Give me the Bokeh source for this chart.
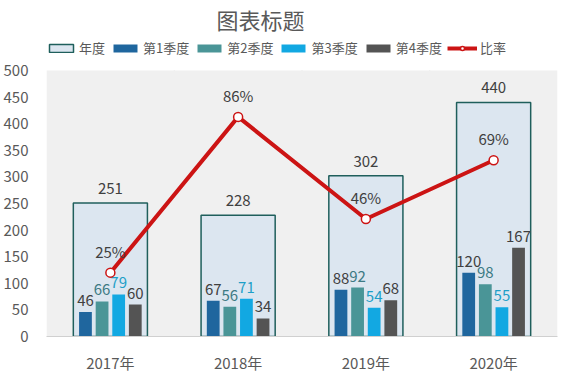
from bokeh.plotting import figure
from bokeh.models import (ColumnDataSource, FactorRange, Range1d, Legend,
                          LegendItem, FixedTicker, BoxAnnotation)
from bokeh.transform import dodge
from bokeh.core.properties import value
from bokeh.embed import file_html
from bokeh.resources import INLINE

# ---- data ----
years = ["2017年", "2018年", "2019年", "2020年"]
annual = [251, 228, 302, 440]
q1 = [46, 67, 88, 120]
q2 = [66, 56, 92, 98]
q3 = [79, 71, 54, 55]
q4 = [60, 34, 68, 167]
ratio = [0.25, 0.86, 0.46, 0.69]
y_ticks = [0, 50, 100, 150, 200, 250, 300, 350, 400, 450, 500]
series_names = ["年度", "第1季度", "第2季度", "第3季度", "第4季度", "比率"]
title_text = "图表标题"

FONT = "Noto Sans CJK SC"
TXT = "#595959"
LBL = "#404040"

FRAME_H = 302
PX_PER_UNIT = 266 / 500.0
y_end = FRAME_H / PX_PER_UNIT

src = ColumnDataSource(dict(
    years=years, annual=annual, q1=q1, q2=q2, q3=q3, q4=q4, ratio=ratio,
    annual_lbl=[str(v) for v in annual],
    q1_lbl=[str(v) for v in q1], q2_lbl=[str(v) for v in q2],
    q3_lbl=[str(v) for v in q3], q4_lbl=[str(v) for v in q4],
    ratio_lbl=[f"{round(v * 100)}%" for v in ratio],
))
grid_src = ColumnDataSource(dict(years=years[:-1]))

p = figure(x_range=FactorRange(*years, range_padding=0), y_range=Range1d(0, y_end),
           frame_width=511, frame_height=FRAME_H, output_backend="svg",
           toolbar_location=None, min_border_left=40, min_border_right=17,
           min_border_bottom=28, min_border_top=0)
p.extra_y_ranges = {"ratio": Range1d(0, y_end / 480)}

p.background_fill_color = "white"
p.border_fill_color = "white"
p.outline_line_color = None
p.xgrid.grid_line_color = None
p.ygrid.grid_line_color = None

# plot area background (0..500) and category separators
p.add_layout(BoxAnnotation(bottom=y_ticks[0], top=y_ticks[-1], fill_color="#f0f0f0",
                           fill_alpha=1, line_color=None, level="underlay"))
p.segment(x0=dodge("years", 0.5, range=p.x_range), y0=y_ticks[0],
          x1=dodge("years", 0.5, range=p.x_range), y1=y_ticks[-1],
          source=grid_src, line_color="#d6d6d6", line_width=1, level="underlay")

# title
p.title.text = title_text
p.title.align = "left"
p.title.offset = 170
p.title.text_font = FONT
p.title.text_font_size = "22px"
p.title.text_font_style = "normal"
p.title.text_color = TXT
p.title.standoff = 0

# axes
p.yaxis.ticker = FixedTicker(ticks=y_ticks)
p.yaxis.axis_line_color = None
p.yaxis.major_tick_line_color = None
p.yaxis.minor_tick_line_color = None
p.yaxis.major_label_text_font = FONT
p.yaxis.major_label_text_font_size = "15px"
p.yaxis.major_label_text_color = TXT
p.yaxis.major_label_standoff = 12

p.xaxis.axis_line_color = "#d0d0d0"
p.xaxis.major_tick_line_color = None
p.xaxis.minor_tick_line_color = None
p.xaxis.major_label_text_font = FONT
p.xaxis.major_label_text_font_size = "15px"
p.xaxis.major_label_text_color = TXT
p.xaxis.major_label_standoff = 9

# bars
r_year = p.vbar(x="years", top="annual", width=0.58, source=src,
                fill_color="#dce6f0", line_color="#1f5f5c", line_width=1.5)

offs = [-0.195, -0.065, 0.065, 0.195]
cols = ["#1f669e", "#4a9597", "#12a8e2", "#545454"]
lcols = [LBL, "#3d7a84", "#1e9fc8", LBL]
qkeys = ["q1", "q2", "q3", "q4"]
q_rs = []
for k, o, c, lc in zip(qkeys, offs, cols, lcols):
    r = p.vbar(x=dodge("years", o, range=p.x_range), top=k, width=0.1,
               source=src, fill_color=c, line_color=None)
    q_rs.append(r)
    p.text(x=dodge("years", o, range=p.x_range), y=k, text=k + "_lbl",
           source=src, text_font=value(FONT), text_font_size="15px",
           text_color=lc, text_align="center", text_baseline="bottom",
           y_offset=-6)

p.text(x="years", y="annual", text="annual_lbl", source=src,
       text_font=value(FONT), text_font_size="15px", text_color=LBL,
       text_align="center", text_baseline="bottom", y_offset=-9)

# ratio line
r_line = p.line(x="years", y="ratio", source=src, y_range_name="ratio",
                line_color="#cc1414", line_width=4)
r_pts = p.scatter(x="years", y="ratio", source=src, y_range_name="ratio",
                  size=9, fill_color="white", line_color="#cc1414", line_width=1.5)
p.text(x="years", y="ratio", text="ratio_lbl", source=src, y_range_name="ratio",
       text_font=value(FONT), text_font_size="15px", text_color=LBL,
       text_align="center", text_baseline="bottom", y_offset=-11)

legend = Legend(items=[
    LegendItem(label=series_names[0], renderers=[r_year]),
    LegendItem(label=series_names[1], renderers=[q_rs[0]]),
    LegendItem(label=series_names[2], renderers=[q_rs[1]]),
    LegendItem(label=series_names[3], renderers=[q_rs[2]]),
    LegendItem(label=series_names[4], renderers=[q_rs[3]]),
    LegendItem(label=series_names[5], renderers=[r_line, r_pts]),
], orientation="horizontal", location=(0, 279),
    glyph_width=30, glyph_height=10, label_standoff=3, spacing=5,
    label_text_font=FONT, label_text_font_size="13px", label_text_color=TXT,
    label_height=14, padding=0, margin=0,
    border_line_color=None, background_fill_alpha=0)
p.add_layout(legend)

open("out.html", "w").write(file_html(p, INLINE))
